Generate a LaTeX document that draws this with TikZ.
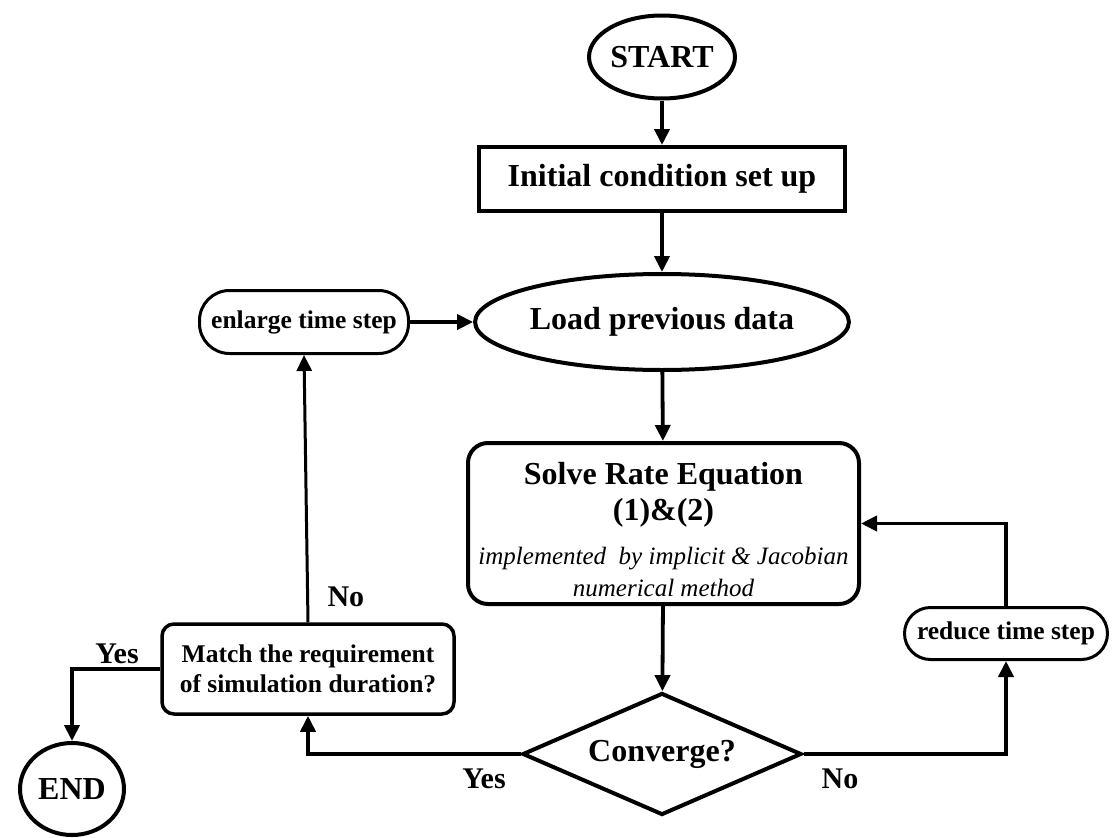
\documentclass[tikz,border=0pt]{standalone}
\usepackage{fontspec}
\setmainfont{Liberation Serif}
\usetikzlibrary{shapes.geometric,arrows.meta}

\begin{document}
\begin{tikzpicture}[x=1pt,y=-1pt,
    big/.style={font=\fontsize{32}{38}\selectfont\bfseries},
    small/.style={font=\fontsize{25.5}{30}\selectfont\bfseries},
    box/.style={draw,line width=4pt,inner sep=0pt,align=center},
    flow/.style={line width=3.8pt,-{Triangle[length=16pt,width=15pt]}},
    lbl/.style={font=\fontsize{30}{34}\selectfont\bfseries}]
        \useasboundingbox (0,0) rectangle (1112,838);

        % Main column
        \node[box,big,ellipse,minimum width=138pt,minimum height=83pt] (start) at (662,57) {START};
        \node[box,big,rectangle,minimum width=366pt,minimum height=64pt] (init) at (662,179) {Initial condition set up};
        \node[box,big,ellipse,minimum width=343pt,minimum height=96pt] (load) at (662,322) {Load previous data};
        \node[box,big,rounded corners=20pt,minimum width=391pt,minimum height=161pt] (solve) at (663.5,523.5)
            {\rule{0pt}{34pt}Solve Rate Equation\\[-2pt](1)\&(2)\\[6pt]
             {\fontsize{25}{28}\selectfont\mdseries\itshape implemented~ by implicit \& Jacobian}\\[-6pt]
             {\fontsize{25}{28}\selectfont\mdseries\itshape numerical method}};
        \node[box,big,diamond,aspect=2.25,minimum width=279pt,minimum height=122pt] (conv) at (662,754) {Converge?};

        % Side boxes
        \node[box,small,line width=3pt,rounded corners=30pt,minimum width=209pt,minimum height=63pt] (enlarge) at (304,322) {enlarge time step};
        \node[box,small,line width=3pt,rounded corners=26pt,minimum width=203pt,minimum height=52pt] (reduce) at (1006,633.5) {reduce time step};
        \node[box,small,line width=3.5pt,rounded corners=12pt,minimum width=292pt,minimum height=90pt] (match) at (308,669)
            {Match the requirement\\of simulation duration?};
        \node[box,big,ellipse,minimum width=104pt,minimum height=92pt] (end) at (72,789) {END};

        % Flow
        \draw[flow] (start) -- (init);
        \draw[flow] (init) -- (load);
        \draw[flow] (load) -- (solve);
        \draw[flow] (solve) -- (conv);
        \draw[flow] (enlarge) -- (load);

        % Converge? branches
        \draw[flow] (conv.west) -| (match.south);
        \draw[flow] (conv.east) -| (reduce.south);
        \draw[flow] (reduce.north) |- (solve.east);

        % Match? branches
        \draw[flow,line width=3pt] (match.north) -- (enlarge.south);
        \draw[flow] (match.west) -| (end.north);

        % Labels
        \node[lbl,anchor=west] (nomatch) at (324,597) {No};
        \node[lbl] (yesmatch) at (117,654) {Yes};
        \node[lbl] (yesconv) at (484,779) {Yes};
        \node[lbl] (noconv) at (840,779) {No};
\end{tikzpicture}
\end{document}
